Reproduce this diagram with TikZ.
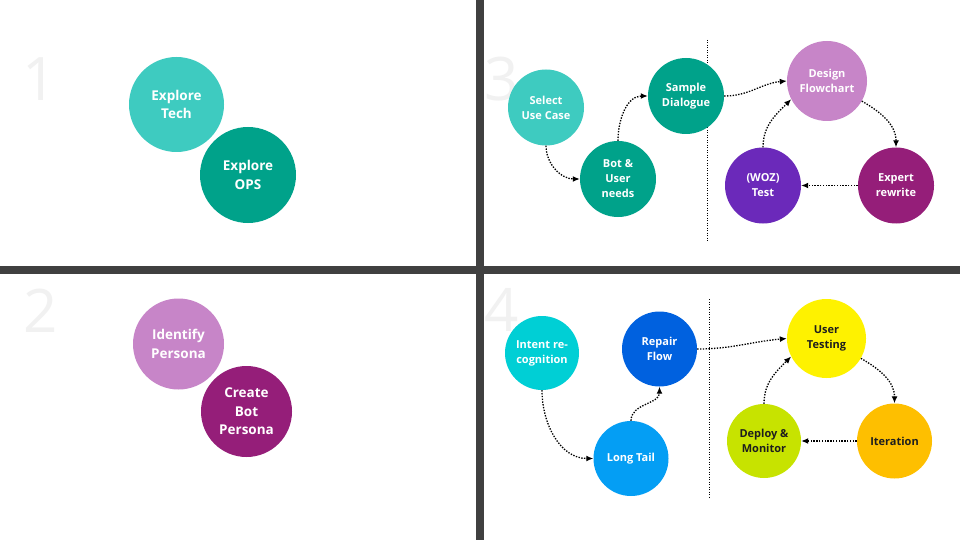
\documentclass[tikz,border=0pt]{standalone}
\usepackage{fontspec}
\setmainfont{Open Sans}
\usetikzlibrary{arrows.meta}
\definecolor{divider}{HTML}{404040}
\definecolor{numgray}{HTML}{F1F1F1}
\definecolor{tealA}{HTML}{3ECBC0}
\definecolor{tealB}{HTML}{00A28A}
\definecolor{lilac}{HTML}{C785C8}
\definecolor{plum}{HTML}{951E79}
\definecolor{violet}{HTML}{6B29BA}
\definecolor{cyanA}{HTML}{00CFD5}
\definecolor{blueA}{HTML}{0061DF}
\definecolor{skyA}{HTML}{049EF4}
\definecolor{yellowA}{HTML}{FEF200}
\definecolor{limeA}{HTML}{C7E300}
\definecolor{amberA}{HTML}{FEBF00}
\definecolor{darktext}{HTML}{1E1E1E}
\tikzset{
  bub/.style={circle, inner sep=0pt, align=center, text=white,
    font=\bfseries\fontsize{11}{15}\selectfont},
  bigbub/.style={bub, font=\bfseries\fontsize{13.5}{18.5}\selectfont},
  numtxt/.style={text=numgray, font=\fontsize{60}{60}\selectfont, inner sep=0pt},
  flow/.style={dash pattern=on 1.4pt off 1.4pt, line width=1.3pt, black,
    -{Latex[length=7pt,width=6pt]}},
  sep/.style={dash pattern=on 1pt off 1.5pt, line width=1pt},
  bar/.style={fill=divider, draw=none}
}
\begin{document}
\begin{tikzpicture}[x=1pt,y=-1pt]
\useasboundingbox (0,0) rectangle (960,540);
\fill[white] (0,0) rectangle (960,540);
% dividers
\path[bar] (476,0) rectangle (484,540);
\path[bar] (0,265.5) rectangle (960,273.5);
% big numbers
\node[numtxt] (n1) at (40,79) {1};
\node[numtxt] (n2) at (41,311) {2};
\node[numtxt] (n3) at (502,79) {3};
\node[numtxt] (n4) at (502,310) {4};
% quadrant 1
\node[bigbub, fill=tealA, minimum size=95pt] (tech) at (176.5,104.5) {Explore\\Tech};
\node[bigbub, fill=tealB, minimum size=96pt] (ops) at (248,175) {Explore\\OPS};
% quadrant 2
\node[bigbub, fill=lilac, minimum size=91pt] (idp) at (178.5,344) {Identify\\Persona};
\node[bigbub, fill=plum, minimum size=91pt] (cbp) at (246.5,411.5) {Create\\Bot\\Persona};
% quadrant 3
\coordinate (s3a) at (707,40);
\coordinate (s3b) at (707,241);
\draw[sep] (s3a) -- (s3b);
\node[bub, fill=tealA, minimum size=76pt] (sel) at (546,107.5) {Select\\Use Case};
\node[bub, fill=tealB, minimum size=76pt] (bot) at (618,179) {Bot \&\\User\\needs};
\node[bub, fill=tealB, minimum size=76pt] (sam) at (686,96) {Sample\\Dialogue};
\node[bub, fill=lilac, minimum size=80pt] (des) at (827,81) {Design\\Flowchart};
\node[bub, fill=violet, minimum size=76pt] (woz) at (763,185.5) {(WOZ)\\Test};
\node[bub, fill=plum, minimum size=76pt] (exp) at (896,185.5) {Expert\\rewrite};
\draw[flow] (sel.south) to[out=-90,in=180] (bot.west);
\draw[flow] (bot.north) to[out=90,in=180] (sam.west);
\draw[flow] (sam.east) to[out=0,in=185] (des.west);
\draw[flow] (des.-30) to[out=-30,in=90] (exp.north);
\draw[flow] (exp.west) -- (woz.east);
\draw[flow] (woz.north) to[out=90,in=225] (des.207);
% quadrant 4
\coordinate (s4a) at (709,299);
\coordinate (s4b) at (709,498);
\draw[sep] (s4a) -- (s4b);
\node[bub, fill=cyanA, minimum size=74pt] (int) at (542,353) {Intent re-\\cognition};
\node[bub, fill=blueA, minimum size=75pt] (rep) at (659.5,349) {Repair\\Flow};
\node[bub, fill=skyA, minimum size=75pt] (lt) at (631,458.5) {Long Tail};
\node[bub, fill=yellowA, text=darktext, minimum size=79pt] (ut) at (826.5,338.5) {User\\Testing};
\node[bub, fill=limeA, text=darktext, minimum size=74pt] (dep) at (764,441) {Deploy \&\\Monitor};
\node[bub, fill=amberA, text=darktext, minimum size=75pt] (it) at (894.5,441) {Iteration};
\draw[flow] (int.south) to[out=-90,in=180] (lt.west);
\draw[flow] (lt.north) to[out=90,in=-90] (rep.south);
\draw[flow] (rep.east) to[out=0,in=185] (ut.west);
\draw[flow] (ut.-30) to[out=-30,in=90] (it.north);
\draw[flow] (it.west) -- (dep.east);
\draw[flow] (dep.north) to[out=90,in=225] (ut.207);
\end{tikzpicture}
\end{document}
